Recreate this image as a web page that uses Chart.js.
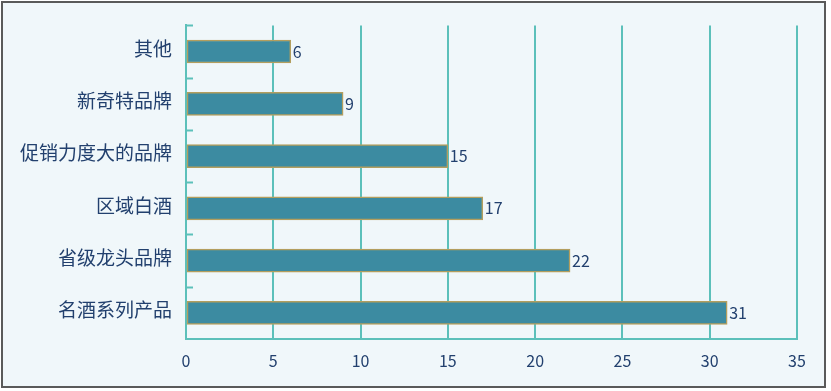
<!DOCTYPE html>
<html>
<head>
<meta charset="utf-8">
<script src="https://cdn.jsdelivr.net/npm/chart.js@4.4.0/dist/chart.umd.min.js"></script>
<style>
html,body{margin:0;padding:0;background:#fff;}
#frame{position:absolute;left:1px;top:1px;width:821px;height:383px;border:2px solid #5a5a5a;background:#F0F7FA;}
#wrap{position:absolute;left:0;top:0;width:831px;height:391px;}
</style>
</head>
<body>
<div id="frame"></div>
<div id="wrap"><canvas id="c" width="831" height="391"></canvas></div>
<script>
const categories = ["其他", "新奇特品牌", "促销力度大的品牌", "区域白酒", "省级龙头品牌", "名酒系列产品"];
const values = [6, 9, 15, 17, 22, 31];
const xTicks = [0, 5, 10, 15, 20, 25, 30, 35];

const textColor = "#22406E";
const gridColor = "#5CC0BA";
const fontFam = "'Noto Sans CJK SC', 'DejaVu Sans', sans-serif";

const innerTicks = {
  id: 'innerTicks',
  afterDatasetsDraw(chart) {
    const y = chart.scales.y, ctx = chart.ctx;
    const left = chart.chartArea.left;
    const n = categories.length;
    const step = n > 1 ? y.getPixelForValue(1) - y.getPixelForValue(0) : 0;
    ctx.save();
    ctx.strokeStyle = gridColor;
    ctx.lineWidth = 2;
    for (let i = 0; i < n; i++) {
      const p = y.getPixelForValue(i) - step / 2;
      ctx.beginPath();
      ctx.moveTo(left, Math.round(p) + 0.5);
      ctx.lineTo(left + 7, Math.round(p) + 0.5);
      ctx.stroke();
    }
    ctx.restore();
  }
};

const valueLabels = {
  id: 'valueLabels',
  afterDatasetsDraw(chart) {
    const ctx = chart.ctx;
    const meta = chart.getDatasetMeta(0);
    ctx.save();
    ctx.fillStyle = textColor;
    ctx.font = "16px " + fontFam;
    ctx.textAlign = 'left';
    ctx.textBaseline = 'middle';
    meta.data.forEach((bar, i) => {
      ctx.fillText(String(values[i]), bar.x + 2, bar.y);
    });
    ctx.restore();
  }
};

new Chart(document.getElementById('c'), {
  type: 'bar',
  data: {
    labels: categories,
    datasets: [{
      data: values,
      backgroundColor: '#3C8BA1',
      borderColor: '#B39E5E',
      borderWidth: 1.5,
      barThickness: 23,
      borderSkipped: false
    }]
  },
  options: {
    indexAxis: 'y',
    responsive: false,
    animation: false,
    layout: { padding: { left: 0, right: 34, top: 22, bottom: 12 } },
    plugins: { legend: { display: false }, tooltip: { enabled: false } },
    scales: {
      x: {
        min: 0, max: 35,
        afterBuildTicks(s) { s.ticks = xTicks.map(v => ({ value: v })); },
        afterFit(s) { s.height = 40; },
        grid: { color: gridColor, lineWidth: 2, drawTicks: false },
        border: { display: true, color: gridColor, width: 2 },
        ticks: { color: textColor, font: { size: 16, family: fontFam }, padding: 12 }
      },
      y: {
        afterFit(s) { s.width = 186; },
        grid: { display: false, drawTicks: false },
        border: { display: true, color: gridColor, width: 2 },
        ticks: { color: textColor, font: { size: 19, family: fontFam }, padding: 14, labelOffset: -3 }
      }
    }
  },
  plugins: [innerTicks, valueLabels]
});
</script>
</body>
</html>
